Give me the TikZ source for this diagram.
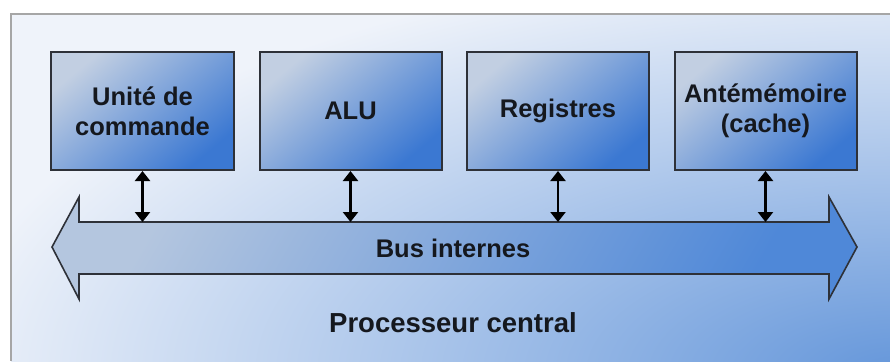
\documentclass[tikz,border=0pt]{standalone}
\usepackage{fontspec}
\setmainfont{Liberation Sans}
\usetikzlibrary{arrows.meta}
\definecolor{bglight}{HTML}{EFF3FA}
\definecolor{bgblue}{HTML}{6496DA}
\definecolor{boxlight}{HTML}{C2CFE2}
\definecolor{boxblue}{HTML}{3B78D2}
\definecolor{buslight}{HTML}{B4C6DF}
\definecolor{busblue}{HTML}{4F88D8}
\definecolor{txt}{HTML}{15181E}
\definecolor{edge}{HTML}{2E3138}
\tikzset{
  unitbox/.style={draw=edge, line width=2bp, minimum width=182bp, minimum height=118bp,
    inner sep=0pt, top color=boxlight, bottom color=boxblue, shading angle=40,
    align=center, text=txt, font=\fontsize{25.5bp}{30bp}\selectfont\bfseries},
  link/.style={line width=2.2bp, draw=black, {Triangle[width=15bp,length=10bp]}-{Triangle[width=15bp,length=10bp]}},
  label/.style={text=txt, inner sep=0pt}
}
\begin{document}
\begin{tikzpicture}[x=1bp,y=-1bp]
\useasboundingbox (0,0) rectangle (890,361);
\fill[white] (0,0) rectangle (890,361);
% frame
\begin{scope}
  \clip (11,14) rectangle (890,361);
  \fill[bglight] (11,14) rectangle (890,361);
  \shade[inner color=bgblue, outer color=bglight] (900,375) ellipse [x radius=960, y radius=420];
\end{scope}
\draw[line width=2bp, draw=black!35] (11,361) -- (11,14) -- (890,14);
% boxes
\node[unitbox] (b1) at (142.5,111) {Unité de\\commande};
\node[unitbox] (b2) at (350.5,111) {ALU};
\node[unitbox] (b3) at (558,111) {Registres};
\node[unitbox] (b4) at (765.5,111) {Antémémoire\\(cache)};
% bus
\shade[draw=edge, line width=1.6bp, top color=buslight, bottom color=busblue, shading angle=60, line join=miter]
  (52,247) -- (79,197) -- (79,222) -- (829,222) -- (829,197) -- (857,247)
  -- (829,299) -- (829,274) -- (79,274) -- (79,299) -- cycle;
\coordinate (bustop) at (0,222);
\node[label, font=\fontsize{25.5bp}{30bp}\selectfont\bfseries] (bus) at (453,248) {Bus internes};
\node[label, font=\fontsize{27.5bp}{32bp}\selectfont\bfseries] (cpu) at (453,323) {Processeur central};
% links
\foreach \b in {b1,b2,b3,b4}
  \draw[link] (\b.south) -- (\b.south |- bustop);
\end{tikzpicture}
\end{document}
